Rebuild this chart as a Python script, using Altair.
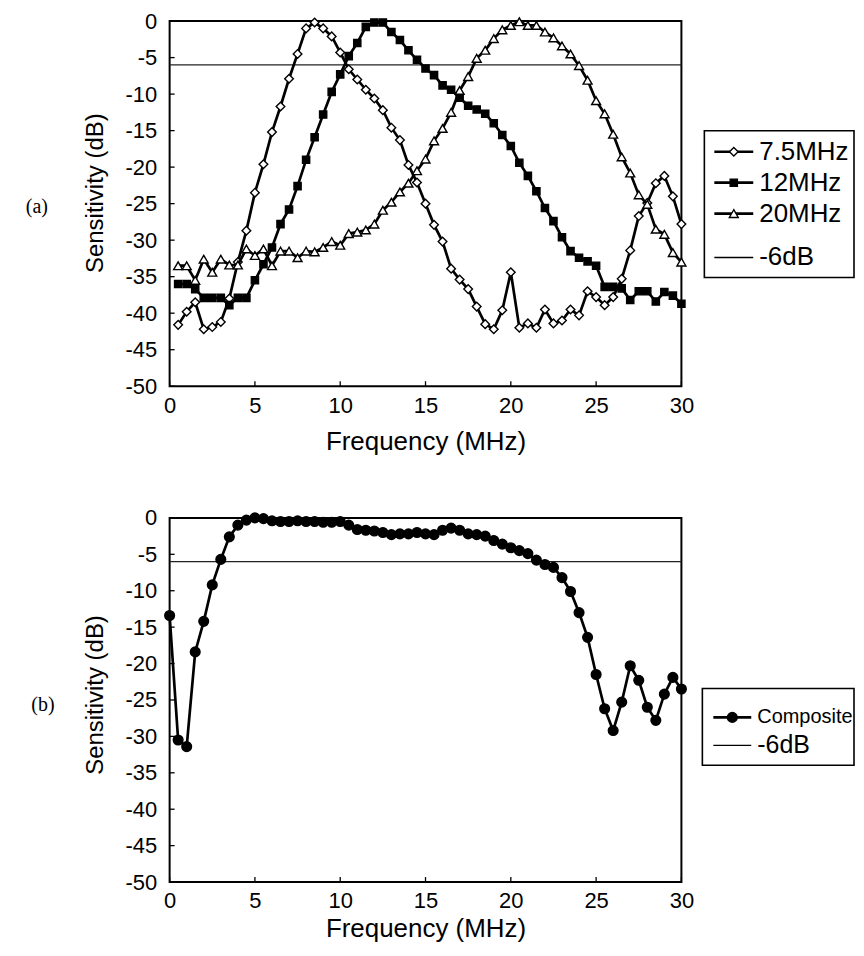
import altair as alt
import pandas as pd

# ---------------- data ----------------
freq_a = [0.5, 1.0, 1.5, 2.0, 2.5, 3.0, 3.5, 4.0, 4.5, 5.0, 5.5, 6.0, 6.5, 7.0, 7.5,
          8.0, 8.5, 9.0, 9.5, 10.0, 10.5, 11.0, 11.5, 12.0, 12.5, 13.0, 13.5, 14.0, 14.5, 15.0,
          15.5, 16.0, 16.5, 17.0, 17.5, 18.0, 18.5, 19.0, 19.5, 20.0, 20.5, 21.0, 21.5, 22.0, 22.5,
          23.0, 23.5, 24.0, 24.5, 25.0, 25.5, 26.0, 26.5, 27.0, 27.5, 28.0, 28.5, 29.0, 29.5, 30.0]

sens_7_5 = [-41.6, -39.8, -38.5, -42.2, -41.9, -41.2, -38.0, -33.0, -28.7, -23.5,
            -19.6, -15.2, -11.7, -7.9, -4.5, -1.0, -0.2, -1.0, -2.1, -4.3,
            -6.6, -8.0, -9.4, -10.6, -12.2, -14.6, -16.3, -19.7, -22.1, -25.0,
            -27.9, -30.2, -33.9, -35.4, -36.7, -39.1, -41.5, -42.2, -39.6, -34.4,
            -42.0, -41.4, -42.0, -39.5, -41.4, -41.0, -39.5, -40.3, -37.0, -37.8,
            -38.9, -37.8, -35.3, -31.4, -26.7, -24.9, -22.2, -21.2, -24.0, -27.8]

sens_12 = [-36.0, -36.0, -36.7, -37.9, -37.9, -37.9, -38.9, -37.9, -37.9, -35.5,
           -33.3, -31.0, -27.8, -25.8, -22.6, -19.0, -15.9, -12.8, -9.7, -7.3,
           -4.8, -3.0, -0.8, -0.2, -0.2, -1.5, -2.6, -4.0, -5.3, -6.5,
           -7.4, -8.8, -9.4, -10.5, -11.6, -12.1, -12.7, -14.0, -15.6, -17.1,
           -19.4, -21.2, -23.3, -25.6, -27.4, -29.6, -31.5, -32.4, -32.9, -33.5,
           -36.4, -36.4, -36.6, -38.2, -37.0, -37.0, -38.4, -37.1, -37.6, -38.7]

sens_20 = [-33.5, -33.5, -35.5, -32.6, -34.4, -32.6, -33.4, -33.4, -31.2, -32.1,
           -31.2, -33.5, -31.5, -31.5, -32.4, -31.5, -31.6, -31.0, -30.2, -30.7,
           -29.1, -28.9, -28.6, -27.8, -25.9, -24.8, -23.4, -22.2, -20.5, -18.9,
           -16.4, -14.7, -12.5, -9.5, -7.6, -5.1, -4.0, -2.4, -1.2, -0.6,
           -0.1, -0.6, -0.6, -1.5, -2.3, -3.4, -4.5, -6.1, -8.1, -10.9,
           -12.7, -15.5, -18.6, -20.8, -23.8, -25.1, -28.5, -29.2, -31.7, -33.0]

freq_b = [0.0, 0.5, 1.0, 1.5, 2.0, 2.5, 3.0, 3.5, 4.0, 4.5, 5.0, 5.5, 6.0, 6.5, 7.0, 7.5,
          8.0, 8.5, 9.0, 9.5, 10.0, 10.5, 11.0, 11.5, 12.0, 12.5, 13.0, 13.5, 14.0, 14.5, 15.0,
          15.5, 16.0, 16.5, 17.0, 17.5, 18.0, 18.5, 19.0, 19.5, 20.0, 20.5, 21.0, 21.5, 22.0, 22.5,
          23.0, 23.5, 24.0, 24.5, 25.0, 25.5, 26.0, 26.5, 27.0, 27.5, 28.0, 28.5, 29.0, 29.5, 30.0]

sens_composite = [-13.4, -30.5, -31.4, -18.4, -14.2, -9.2, -5.7, -2.6, -1.0, -0.3,
                  0.0, -0.1, -0.4, -0.5, -0.5, -0.4, -0.5, -0.5, -0.6, -0.6,
                  -0.5, -1.0, -1.6, -1.7, -1.8, -2.0, -2.3, -2.2, -2.2, -2.0,
                  -2.2, -2.3, -1.7, -1.4, -1.7, -2.2, -2.3, -2.5, -3.1, -3.6,
                  -4.1, -4.5, -4.9, -5.8, -6.4, -6.8, -8.2, -10.1, -13.0, -16.4,
                  -21.5, -26.2, -29.2, -25.3, -20.3, -22.3, -26.0, -27.8, -24.2, -21.9,
                  -23.5]

threshold_db = [-6.0]
x_ticks = [0, 5, 10, 15, 20, 25, 30]
y_ticks = [-50, -45, -40, -35, -30, -25, -20, -15, -10, -5, 0]
legend_a = ["7.5MHz", "12MHz", "20MHz", "-6dB"]
legend_b = ["Composite", "-6dB"]

# ---------------- style ----------------
W = 513
H_A = 366
H_B = 365
SANS = "Liberation Sans"
SERIF = "Liberation Serif"
LABEL_SIZE = 22
XTITLE_SIZE = 26
YTITLE_SIZE = 24
HYPHEN_LABEL = "datum.value < 0 ? '-' + abs(datum.value) : '' + datum.value"

xscale = alt.Scale(domain=[0, 30], nice=False, zero=False)
yscale = alt.Scale(domain=[-50, 0], nice=False, zero=False)


def X(field, title_y):
    return alt.X(field, type="quantitative", scale=xscale,
                 axis=alt.Axis(values=x_ticks, title="Frequency (MHz)", grid=False,
                               domain=False, ticks=False, labelPadding=9, labelFlush=False,
                               labelFont=SANS, labelFontSize=LABEL_SIZE, labelColor="black",
                               titleFont=SANS, titleFontSize=XTITLE_SIZE, titleFontWeight="normal",
                               titleColor="black",
                               titleY=title_y, titleBaseline="middle"))


def Y(field, title_y):
    return alt.Y(field, type="quantitative", scale=yscale,
                 axis=alt.Axis(values=y_ticks, title="Sensitivity (dB)", grid=False,
                               domain=False, ticks=False, labelPadding=13, labelFlush=False,
                               labelExpr=HYPHEN_LABEL,
                               labelFont=SANS, labelFontSize=LABEL_SIZE, labelColor="black",
                               titleFont=SANS, titleFontSize=YTITLE_SIZE, titleFontWeight="normal",
                               titleColor="black",
                               titleX=-74, titleY=title_y, titleAngle=-90,
                               titleBaseline="middle", titleAlign="center"))


def series_layers(freq, vals, shape, fill, size, ty_x, ty_y):
    df = pd.DataFrame({"f": freq, "v": vals})
    line = alt.Chart(df).mark_line(color="black", strokeWidth=2.7).encode(
        x=X("f", ty_x), y=Y("v", ty_y))
    pts = alt.Chart(df).mark_point(shape=shape, filled=True, fill=fill, stroke="black",
                                   strokeWidth=1.4, size=size, opacity=1).encode(
        x=X("f", ty_x), y=Y("v", ty_y))
    return [line, pts]


def frame_layers(H, ty_x, ty_y):
    thr = alt.Chart(pd.DataFrame({"v": threshold_db})).mark_rule(
        color="#222", strokeWidth=1.4).encode(
        y=Y("v", ty_y), x=alt.value(0), x2=alt.value(W))
    xt = alt.Chart(pd.DataFrame({"t": x_ticks})).mark_rule(color="black", strokeWidth=1.3).encode(
        x=X("t", ty_x), y=alt.value(H), y2=alt.value(H - 5))
    yt = alt.Chart(pd.DataFrame({"t": y_ticks})).mark_rule(color="black", strokeWidth=1.3).encode(
        y=Y("t", ty_y), x=alt.value(0), x2=alt.value(5))
    return [thr, xt, yt]


one = pd.DataFrame({"k": [0]})


def legend_box(x0, x1, y0, y1):
    return alt.Chart(one).mark_rect(fill="white", stroke="black", strokeWidth=1.6).encode(
        x=alt.value(x0), x2=alt.value(x1), y=alt.value(y0), y2=alt.value(y1))


def legend_entry(label, ypos, lx0, lx1, tx, shape=None, fill=None, size=None, font_size=26):
    layers = [alt.Chart(one).mark_rule(color="black",
                                       strokeWidth=2.7 if shape else 1.4).encode(
        x=alt.value(lx0), x2=alt.value(lx1), y=alt.value(ypos))]
    if shape:
        layers.append(alt.Chart(one).mark_point(shape=shape, filled=True, fill=fill, stroke="black",
                                                strokeWidth=1.4, size=size, opacity=1).encode(
            x=alt.value((lx0 + lx1) / 2), y=alt.value(ypos)))
    layers.append(alt.Chart(one).mark_text(text=label, align="left", baseline="middle",
                                           font=SANS, fontSize=font_size, color="black").encode(
        x=alt.value(tx), y=alt.value(ypos)))
    return layers


# ---------------- panel (a) ----------------
TXA, TYA = 55, 172
layers_a = frame_layers(H_A, TXA, TYA)
layers_a += series_layers(freq_a, sens_7_5, "diamond", "white", 75, TXA, TYA)
layers_a += series_layers(freq_a, sens_12, "square", "black", 52, TXA, TYA)
layers_a += series_layers(freq_a, sens_20, "triangle-up", "white", 80, TXA, TYA)
layers_a.append(legend_box(536, 686, 110, 257))
layers_a += legend_entry(legend_a[0], 131, 546, 585, 591, "diamond", "white", 75)
layers_a += legend_entry(legend_a[1], 162, 546, 585, 591, "square", "black", 52)
layers_a += legend_entry(legend_a[2], 193, 546, 585, 591, "triangle-up", "white", 80)
layers_a += legend_entry(legend_a[3], 237, 546, 585, 591)
layers_a.append(alt.Chart(one).mark_text(text="(a)", font=SERIF, fontSize=20, color="black").encode(
    x=alt.value(-133), y=alt.value(186)))

panel_a = alt.layer(*layers_a).properties(width=W, height=H_A)

# ---------------- panel (b) ----------------
TXB, TYB = 47, 177
layers_b = frame_layers(H_B, TXB, TYB)
layers_b += series_layers(freq_b, sens_composite, "circle", "black", 95, TXB, TYB)
layers_b.append(legend_box(534, 686, 171, 248))
layers_b += legend_entry(legend_b[0], 200, 545, 583, 589, "circle", "black", 95, font_size=20)
layers_b += legend_entry(legend_b[1], 228, 545, 583, 589, font_size=25)
layers_b.append(alt.Chart(one).mark_text(text="(b)", font=SERIF, fontSize=20, color="black").encode(
    x=alt.value(-127), y=alt.value(188)))

panel_b = alt.layer(*layers_b).properties(width=W, height=H_B)

chart = alt.vconcat(panel_a, panel_b, spacing=51).properties(
    padding={"left": 16, "top": 0, "right": 0, "bottom": 0},
    background="white"
).configure_view(
    stroke="black", strokeWidth=2
)

chart.save("out.html", embed_options={"renderer": "svg", "actions": False})
